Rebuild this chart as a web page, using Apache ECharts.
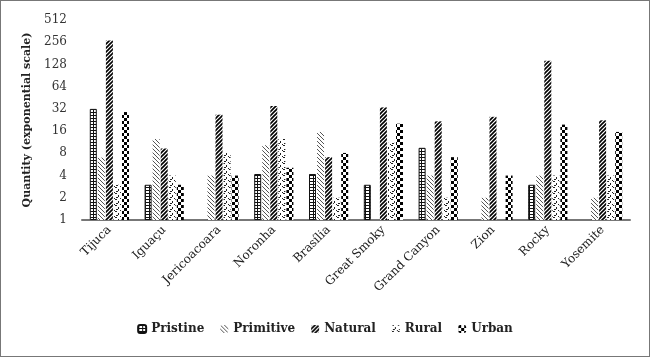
<!DOCTYPE html>
<html>
<head>
<meta charset="utf-8">
<script src="https://cdn.jsdelivr.net/npm/echarts@6/dist/echarts.min.js"></script>
<style>
  html, body { margin: 0; padding: 0; background: #fff; }
  #main { width: 648px; height: 355px; border: 1px solid #777; }
</style>
</head>
<body>
<div id="main"></div>
<script>
const parks = ['Tijuca', 'Iguaçu', 'Jericoacoara', 'Noronha', 'Brasília', 'Great Smoky', 'Grand Canyon', 'Zion', 'Rocky', 'Yosemite'];
const pristine  = [32, 3, null, 4.2, 4.2, 3, 9.5, null, 3, null];
const primitive = [7, 12.5, 4, 10.3, 15.6, null, 4, 2, 4, 2];
const natural   = [270, 9.3, 26.7, 35, 7.1, 33.5, 21.7, 25, 144, 22.4];
const rural     = [3, 4, 8.1, 12.5, 2, 11.1, 2, null, 4, 4];
const urban     = [29, 3, 4, 5.1, 8.1, 20.2, 7.1, 4, 19.6, 15.6];
const yTicks = [1, 2, 4, 8, 16, 32, 64, 128, 256, 512];

const FONT = 'DejaVu Serif';

// pattern tiles drawn on small canvases
function tile(w, h, draw) {
  const c = document.createElement('canvas');
  c.width = w; c.height = h;
  const g = c.getContext('2d');
  g.fillStyle = '#fff';
  g.fillRect(0, 0, w, h);
  draw(g);
  return { image: c, repeat: 'repeat' };
}

const patPristine = tile(4, 3, g => {
  g.fillStyle = '#111';
  g.fillRect(0, 0, 4, 1);
  g.fillRect(0, 0, 1, 3);
});
const patPrimitive = tile(4, 4, g => {
  g.fillStyle = '#555';
  for (let i = 0; i < 4; i++) g.fillRect(i, i, 1, 1);
});
const patNatural = tile(4, 4, g => {
  g.strokeStyle = '#000';
  g.lineWidth = 1.6;
  g.beginPath();
  g.moveTo(-1, 5); g.lineTo(5, -1);
  g.moveTo(-3, 3); g.lineTo(3, -3);
  g.moveTo(1, 7); g.lineTo(7, 1);
  g.stroke();
});
const patRural = tile(6, 6, g => {
  g.fillStyle = '#222';
  g.fillRect(0, 0, 2, 1);
  g.fillRect(3, 2, 1, 2);
  g.fillRect(1, 4, 2, 1);
  g.fillRect(5, 5, 1, 1);
});
const patUrban = tile(6, 6, g => {
  g.fillStyle = '#000';
  g.fillRect(0, 0, 3, 3);
  g.fillRect(3, 3, 3, 3);
});

const chart = echarts.init(document.getElementById('main'));

function makeSeries(name, data, pattern, bordered) {
  return {
    name: name,
    type: 'bar',
    barWidth: 7,
    barGap: '15%',
    data: data.map(v => (v == null ? '-' : v)),
    itemStyle: {
      color: pattern,
      borderColor: bordered ? '#111' : 'transparent',
      borderWidth: bordered ? 1 : 0
    }
  };
}

chart.setOption({
  animation: false,
  textStyle: { fontFamily: FONT },
  grid: { left: 81, right: 19, top: 19, bottom: 136 },
  legend: {
    bottom: 16,
    left: 'center',
    itemWidth: 8,
    itemHeight: 8,
    itemGap: 16,
    textStyle: { fontFamily: FONT, fontSize: 12, fontWeight: 'bold', color: '#222' },
    data: ['Pristine', 'Primitive', 'Natural', 'Rural', 'Urban']
  },
  xAxis: {
    type: 'category',
    data: parks,
    axisLine: { lineStyle: { color: '#777', width: 2 } },
    axisTick: { show: false },
    axisLabel: { rotate: 45, fontSize: 12, color: '#222', margin: 8, interval: 0 }
  },
  yAxis: {
    type: 'log',
    logBase: 2,
    min: yTicks[0],
    max: yTicks[yTicks.length - 1],
    splitNumber: yTicks.length - 1,
    name: 'Quantity (exponential scale)',
    nameLocation: 'middle',
    nameRotate: 90,
    nameGap: 49,
    nameTextStyle: { fontFamily: FONT, fontSize: 11, fontWeight: 'bold', color: '#222' },
    axisLine: { show: false },
    axisTick: { show: false },
    splitLine: { show: false },
    axisLabel: { fontSize: 12, color: '#333', margin: 15 }
  },
  series: [
    makeSeries('Pristine', pristine, patPristine, true),
    makeSeries('Primitive', primitive, patPrimitive, false),
    makeSeries('Natural', natural, patNatural, false),
    makeSeries('Rural', rural, patRural, false),
    makeSeries('Urban', urban, patUrban, false)
  ]
});
</script>
</body>
</html>
